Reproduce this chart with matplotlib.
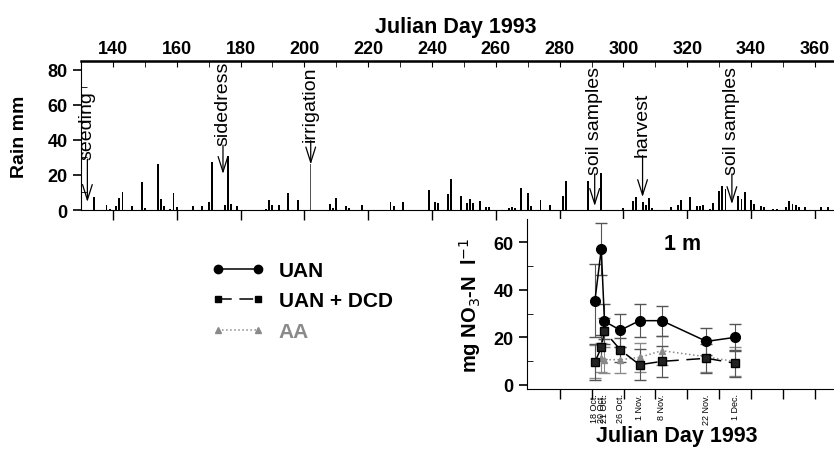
"""Rainfall 1993 and nitrate at 1 m depth under three N sources."""

import matplotlib.pyplot as plt
from matplotlib.lines import Line2D

plt.rcParams["font.family"] = ["Liberation Sans", "DejaVu Sans"]

# daily rain (Julian day, mm)
rain_day = [134, 138, 139, 141, 142, 143, 146, 149, 150, 154, 155, 156, 158, 159, 160,
            165, 168, 170, 171, 175, 176, 177, 179, 188, 189, 190, 192, 195, 198, 208,
            209, 210, 213, 214, 218, 227, 228, 231, 239, 241, 242, 245, 246, 249, 251,
            252, 253, 255, 257, 258, 264, 265, 266, 268, 270, 271, 274, 277, 281, 282,
            289, 293, 300, 303, 304, 306, 307, 308, 309, 315, 317, 318, 321, 323, 324,
            325, 327, 328, 330, 331, 332, 336, 337, 338, 340, 341, 343, 344, 347, 348,
            351, 352, 353, 354, 355, 357, 362, 364]
rain_mm = [7.2, 3.0, 0.6, 2.0, 7.0, 10.0, 2.3, 16.0, 1.0, 26.0, 6.3, 2.3, 0.5, 9.7, 1.5,
           2.3, 2.5, 4.4, 27.4, 2.9, 30.7, 3.2, 2.1, 0.4, 5.9, 2.7, 2.7, 9.5, 5.5, 3.2,
           1.0, 6.7, 2.0, 1.0, 2.7, 4.4, 2.5, 4.4, 11.2, 4.8, 4.0, 9.1, 17.7, 7.8, 4.0,
           6.0, 3.8, 5.0, 1.9, 1.5, 1.1, 1.9, 1.3, 12.4, 9.7, 2.5, 5.9, 2.9, 7.8, 16.4,
           16.4, 21.0, 1.0, 5.3, 7.2, 4.4, 2.9, 6.7, 1.0, 1.9, 2.9, 5.9, 7.2, 2.5, 2.5,
           2.9, 0.6, 3.8, 11.0, 13.9, 12.0, 7.8, 6.3, 10.5, 5.7, 3.4, 2.5, 1.9, 0.6, 0.6,
           1.5, 5.3, 3.4, 3.0, 1.9, 1.9, 1.5, 1.5]
irrigation_day = [202]
irrigation_mm = [26.0]

# field operations
event_label = ["seeding", "sidedress", "irrigation", "soil samples", "harvest", "soil samples"]
event_day = [132, 174.5, 202, 291, 306, 334]
event_tip = [4.6, 20.6, 26.0, 2.3, 7.4, 3.4]
event_base = [29.0, 37.0, 39.5, 20.6, 31.0, 20.6]

# nitrate at 1 m (mg NO3-N / l)
sample_day = [291, 293, 294, 299, 305, 312, 326, 335]
sample_label = ["18 Oct.", "20 Oct.", "21 Oct.", "26 Oct.", "1 Nov.", "8 Nov.", "22 Nov.", "1 Dec."]
uan = [35.4, 57.0, 26.7, 23.0, 27.0, 27.0, 18.3, 20.0]
uan_err = [15.2, 11.0, 7.4, 7.0, 7.0, 6.3, 5.6, 5.6]
uan_dcd = [9.5, 15.8, 22.5, 14.7, 8.5, 9.9, 11.2, 9.1]
uan_dcd_err = [7.5, 5.0, 5.5, 5.0, 6.4, 6.4, 6.0, 5.6]
aa = [9.9, 11.5, 10.6, 10.6, 11.6, 14.4, 11.8, 9.8]
aa_err = [7.0, 6.0, 5.5, 5.5, 6.0, 6.0, 6.5, 6.0]

W, H = 834, 456
BOLD = dict(fontweight="bold")
TICK_FS = 13
LABEL_FS = 15.5

fig = plt.figure(figsize=(W / 100, H / 100), dpi=100)

# ---- rain panel ----
ax1 = fig.add_axes([81 / W, 1 - 211 / H, 1 - 81 / W, (211 - 62) / H])
ax1.bar(rain_day, rain_mm, width=0.6, color="black")
ax1.bar(irrigation_day, irrigation_mm, width=0.4, color="#555555")
ax1.set_xlim(130, 366)
ax1.set_ylim(0, 85)
ax1.spines["right"].set_visible(False)
ax1.spines["top"].set_linewidth(1.8)
ax1.set_xticks(range(140, 361, 20))
ax1.set_xticklabels([])
ax1.tick_params(axis="x", which="major", direction="out", length=7, width=1)
ax1.set_yticks(range(0, 81, 20))
ax1.set_yticks(range(10, 81, 20), minor=True)
ax1.tick_params(axis="y", which="major", direction="out", length=6, width=1.2,
                labelsize=TICK_FS)
ax1.tick_params(axis="y", which="minor", direction="in", length=4)
for t in ax1.get_yticklabels():
    t.set_fontweight("bold")

top = ax1.secondary_xaxis("top")
top.set_xticks(range(140, 361, 20))
top.set_xticks(range(130, 366, 10), minor=True)
top.tick_params(which="both", direction="in", length=4, labelsize=TICK_FS, pad=3)
for t in top.get_xticklabels():
    t.set_fontweight("bold")

for lab, d, tip, base in zip(event_label, event_day, event_tip, event_base):
    ax1.annotate("", xy=(d, tip), xytext=(d, base),
                 arrowprops=dict(arrowstyle="->,head_length=1.1,head_width=0.35",
                                 lw=0.9, color="black", shrinkA=0, shrinkB=0))
    ax1.text(d, base, lab, rotation=90, ha="center", va="bottom", fontsize=14)

fig.text(456 / W, 1 - 27 / H, "Julian Day 1993", ha="center", va="center",
         fontsize=LABEL_FS, **BOLD)
fig.text(20 / W, 1 - 137 / H, "Rain mm", rotation=90, ha="center", va="center",
         fontsize=14, **BOLD)

# ---- nitrate panel ----
ax2 = fig.add_axes([527 / W, 1 - 390 / H, 1 - 527 / W, (390 - 220) / H])
ax2.errorbar(sample_day, aa, yerr=aa_err, color="#8a8a8a", ls=":", lw=1.1,
             marker="^", ms=5, capsize=4, elinewidth=0.8)
ax2.errorbar(sample_day, uan_dcd, yerr=uan_dcd_err, color="black", ls=(0, (9, 5)),
             lw=1.1, marker="s", ms=6, mfc="#222222", capsize=4, elinewidth=0.8,
             ecolor="#555555")
ax2.errorbar(sample_day, uan, yerr=uan_err, color="black", ls="-", lw=1.1,
             marker="o", ms=7, capsize=4, elinewidth=0.8, ecolor="#555555")
ax2.set_xlim(269.7, 366)
ax2.set_ylim(-1.7, 69.7)
ax2.spines["right"].set_visible(False)
ax2.spines["top"].set_visible(False)
ax2.set_xticks(sample_day)
ax2.set_xticklabels(sample_label, rotation=90, fontsize=6.5)
ax2.tick_params(axis="x", which="major", length=0, pad=3)
ax2.set_xticks(range(280, 361, 10), minor=True)
ax2.tick_params(axis="x", which="minor", direction="out", length=7, width=1)
ax2.set_yticks(range(0, 61, 20))
ax2.set_yticks(range(10, 61, 20), minor=True)
ax2.tick_params(axis="y", which="major", direction="out", length=6, width=1.2,
                labelsize=TICK_FS)
ax2.tick_params(axis="y", which="minor", direction="in", length=4)
for t in ax2.get_yticklabels():
    t.set_fontweight("bold")

ax2.text(0.508, 0.853, "1 m", transform=ax2.transAxes, ha="center", va="center",
         fontsize=LABEL_FS, **BOLD)
fig.text(677 / W, 1 - 437 / H, "Julian Day 1993", ha="center", va="center",
         fontsize=LABEL_FS, **BOLD)
fig.text(470 / W, 1 - 305 / H, r"mg NO$_3$-N  l$^{-1}$", rotation=90, ha="center",
         va="center", fontsize=14.5, **BOLD)

handles = [
    Line2D([], [], color="black", ls="-", lw=1.1, marker="o", ms=6),
    Line2D([], [], color="black", ls=(0, (9, 5)), lw=1.1, marker="s", ms=5),
    Line2D([], [], color="#8a8a8a", ls=":", lw=1.1, marker="^", ms=4),
]
leg = fig.legend(handles, ["UAN", "UAN + DCD", "AA"], loc="upper left",
                 bbox_to_anchor=(212 / W, 1 - 262 / H), frameon=False, numpoints=2,
                 handlelength=2.5, handletextpad=0.7, labelspacing=0.55,
                 borderpad=0, borderaxespad=0,
                 prop=dict(size=15, weight="bold"))
leg.get_texts()[2].set_color("#8a8a8a")

fig.savefig("out.png", dpi=100)
